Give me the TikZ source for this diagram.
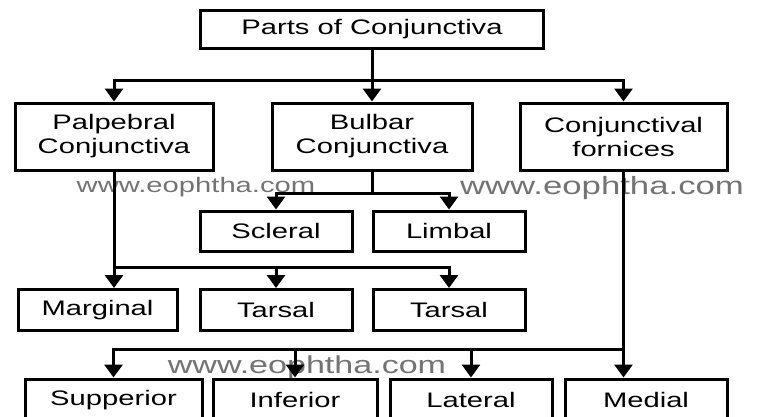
\documentclass[tikz,border=0pt]{standalone}
\usepackage{fontspec}
\setmainfont{Liberation Sans}[FakeStretch=1.39]
\usetikzlibrary{arrows.meta, positioning, calc}

\begin{document}
\begin{tikzpicture}[
  x=1pt, y=-1pt,
  partbox/.style = {draw, line width=3pt, inner sep=0pt, align=center,
                    font=\fontsize{21}{24}\selectfont},
  topbox/.style  = {partbox, minimum width=343pt, minimum height=38pt},
  mainbox/.style = {partbox, minimum height=67pt},
  subbox/.style  = {partbox, minimum width=152pt, minimum height=40pt},
  lowbox/.style  = {partbox, minimum height=42pt},
  wmark/.style   = {text=black!55, inner sep=0pt},
  arr/.style     = {-{Triangle[length=13pt,width=18pt]}, line width=3pt},
]
\useasboundingbox (0,0) rectangle (760,416);
\clip (0,0) rectangle (760,416);

%% ── Watermarks ────────────────────────────────────────────────────────────
\node[wmark, font=\fontsize{21}{24}\selectfont] (wm1) at (196, 187) {www.eophtha.com};
\node[wmark, font=\fontsize{25}{28}\selectfont] (wm2) at (602, 188) {www.eophtha.com};
\node[wmark, font=\fontsize{24.5}{28}\selectfont] (wm3) at (307, 367) {www.eophtha.com};

%% ── Root ──────────────────────────────────────────────────────────────────
\node[topbox] (top) at (372, 29) {Parts of Conjunctiva};

%% ── Main parts ────────────────────────────────────────────────────────────
\node[mainbox, minimum width=198pt] (palp) at (114,   136.5) {Palpebral\\Conjunctiva};
\node[mainbox, minimum width=200pt] (bulb) at (372,   136.5) {Bulbar\\Conjunctiva};
\node[mainbox, minimum width=207pt] (forn) at (623.5, 136.5) {Conjunctival\\fornices};

\draw[arr] (top.south) -- (bulb.north);
\draw[arr] (top.south) -- ++(0,31) -| (palp.north);
\draw[arr] (top.south) -- ++(0,31) -| (forn.north);

%% ── Bulbar ────────────────────────────────────────────────────────────────
\node[subbox] (scler) at (276, 231) {Scleral};
\node[subbox] (limb)  at (449, 231) {Limbal};

\draw[arr] (bulb.south) -- ++(0,22) -| (scler.north);
\draw[arr] (bulb.south) -- ++(0,22) -| (limb.north);

%% ── Palpebral ─────────────────────────────────────────────────────────────
\node[subbox, minimum width=159pt, minimum height=41pt] (marg)  at (97.5, 310) {Marginal};
\node[subbox, minimum height=41pt] (tars1) at (276, 310) {Tarsal};
\node[subbox, minimum height=41pt] (tars2) at (449, 310) {Tarsal};

\draw[arr] (palp.south) -- (palp.south |- marg.north);
\draw[arr] (palp.south) -- ++(0,96) -| (tars1.north);
\draw[arr] (palp.south) -- ++(0,96) -| (tars2.north);

%% ── Fornices ──────────────────────────────────────────────────────────────
\node[lowbox, minimum width=177pt] (sup) at (113.5, 400) {Supperior};
\node[lowbox, minimum width=164pt] (inf) at (295,   400) {Inferior};
\node[lowbox, minimum width=162pt] (lat) at (471,   400) {Lateral};
\node[lowbox, minimum width=162pt] (med) at (646,   400) {Medial};

\draw[arr] (forn.south) -- (forn.south |- med.north);
\draw[arr] (forn.south) -- ++(0,178) -| (sup.north);
\draw[arr] (forn.south) -- ++(0,178) -| (inf.north);
\draw[arr] (forn.south) -- ++(0,178) -| (lat.north);

\end{tikzpicture}
\end{document}
